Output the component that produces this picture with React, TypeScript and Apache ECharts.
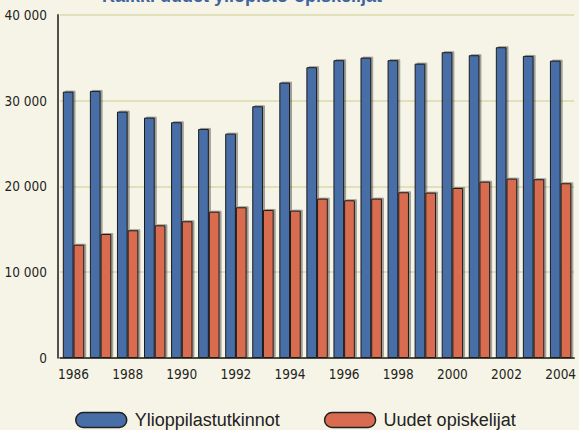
import React, { useEffect, useRef } from "react";
import * as echarts from "echarts";

const years = ["1986","1987","1988","1989","1990","1991","1992","1993","1994","1995","1996","1997","1998","1999","2000","2001","2002","2003","2004"];
const ylioppilastutkinnot = [31040, 31120, 28710, 28010, 27470, 26690, 26140, 29330, 32090, 33880, 34700, 35000, 34700, 34300, 35630, 35280, 36210, 35200, 34650];
const uudetOpiskelijat = [13200, 14450, 14880, 15460, 15930, 17050, 17560, 17250, 17170, 18570, 18380, 18570, 19310, 19270, 19810, 20550, 20900, 20830, 20360];
const seriesNames = ["Ylioppilastutkinnot", "Uudet opiskelijat"];
const titleText = "Kaikki uudet yliopisto-opiskelijat";

const narrow = "'Liberation Sans Narrow', 'DejaVu Sans Condensed', sans-serif";
const pill = "path://M7.5,0L43.5,0A7.5,7.5,0,0,1,43.5,15L7.5,15A7.5,7.5,0,0,1,7.5,0Z";

export default function App() {
  const ref = useRef<HTMLDivElement>(null);
  useEffect(() => {
    document.body.style.margin = "0";
    const chart = echarts.init(ref.current!, null, { renderer: "svg" });
    const barStyle = (color: string) => ({
      color,
      borderColor: "#1c1c1c",
      borderWidth: 1,
      shadowColor: "rgba(0,0,0,0.35)",
      shadowOffsetX: 2,
      shadowOffsetY: -1,
      shadowBlur: 1,
    });
    chart.setOption({
      animation: false,
      backgroundColor: "#f6f4e7",
      graphic: [
        {
          type: "text",
          left: 102,
          top: -13,
          style: {
            text: titleText,
            font: "bold 18px 'Liberation Sans', Arial, sans-serif",
            fill: "#3d65a0",
          },
        },
      ],
      grid: { left: 60, right: 1.5, top: 14.7, bottom: 72, containLabel: false },
      legend: {
        left: 75,
        top: 411,
        padding: 0,
        itemWidth: 51,
        itemHeight: 15,
        itemGap: 44,
        icon: pill,
        itemStyle: { borderColor: "#222", borderWidth: 1.5, shadowBlur: 0, shadowOffsetX: 0, shadowOffsetY: 0, shadowColor: "transparent" },
        textStyle: { fontSize: 18, fontFamily: "'Liberation Sans', Arial, sans-serif", color: "#222", padding: [0, 0, 0, 3] },
        data: seriesNames,
      },
      xAxis: {
        type: "category",
        data: years,
        axisLine: { lineStyle: { color: "#1a1a1a", width: 1.5 } },
        axisTick: { interval: 0, length: 4, lineStyle: { color: "#1a1a1a", width: 1 } },
        axisLabel: { interval: 1, margin: 9, fontSize: 13.5, fontFamily: narrow, color: "#231f20" },
        splitLine: { show: false },
      },
      yAxis: {
        type: "value",
        min: 0,
        max: 40000,
        interval: 10000,
        offset: 2,
        axisLine: { show: true, lineStyle: { color: "#1a1a1a", width: 1.5 } },
        axisTick: { show: false },
        axisLabel: {
          margin: 11,
          fontSize: 13.5,
          fontFamily: narrow,
          color: "#231f20",
          formatter: (v: number) => (v === 0 ? "0" : String(v).replace(/\B(?=(\d{3})+(?!\d))/g, " ")),
        },
        splitLine: { show: true, lineStyle: { color: "#e2dfbb", width: 2 } },
      },
      series: [
        {
          name: seriesNames[0],
          type: "bar",
          data: ylioppilastutkinnot,
          barWidth: 10.7,
          barGap: "0%",
          itemStyle: barStyle("#476ea6"),
        },
        {
          name: seriesNames[1],
          type: "bar",
          data: uudetOpiskelijat,
          barWidth: 10.7,
          barGap: "0%",
          itemStyle: barStyle("#d96c50"),
        },
      ],
    });
    return () => chart.dispose();
  }, []);
  return <div ref={ref} style={{ position: "fixed", left: 0, top: 0, width: 579, height: 430 }} />;
}
